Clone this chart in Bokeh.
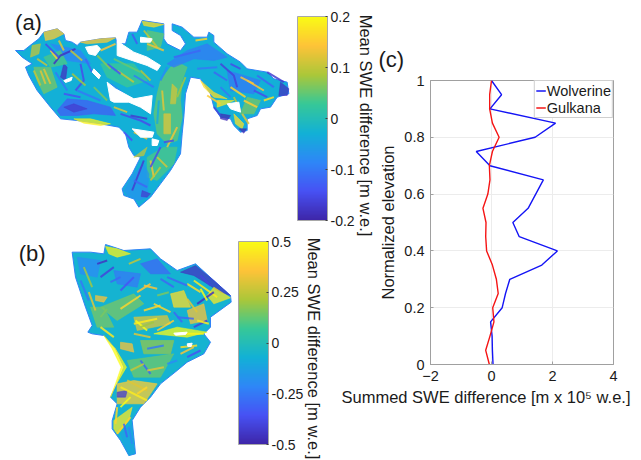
from math import pi
import numpy as np
from bokeh.plotting import figure
from bokeh.layouts import row, column
from bokeh.models import (ColorBar, ColumnDataSource, FixedTicker, Label, Legend, LegendItem,
                          LinearAxis, LinearColorMapper, Range1d, Title)
from bokeh.transform import linear_cmap
from bokeh.embed import file_html
from bokeh.resources import INLINE

FONT = "Liberation Sans"

# ---- panel (c) profiles
elevation = [1.0, .95, .9, .85, .8, .75, .7, .65, .6, .55, .5, .45, .4, .35, .3, .25, .2, .15, .1, .05, 0.0]
wolverine = [0, .33, -.05, 2.1, 1.43, -.5, -.05, 1.7, 1.45, 1.2, .7, .91, 2.16, 1.65, .6, .46, .35, -.03, .02, .03, .05]
gulkana = [0, -.06, -.06, .03, .25, .03, -.07, -.05, -.12, -.28, -.18, -.19, -.16, .03, .16, .22, .04, .08, -.05, -.19, -.07]
x_ticks = [-2, 0, 2, 4]
y_ticks = [0, .2, .4, .6, .8, 1]

# ---- colour scale anchors
parula = [(62, 38, 168), (71, 82, 244), (46, 135, 247), (18, 177, 214),
          (55, 200, 151), (171, 199, 57), (254, 195, 56), (249, 251, 21)]

# ---- map (a): outline, value patches, streaks, gaps (map units)
a_outline = [(45,150),(70,150),(95,130),(115,115),(130,95),(170,85),(190,100),(195,120),(215,125),(230,135),(240,125),(300,115),(345,112),(350,130),(375,130),(385,95),(410,95),(425,60),(490,70),(490,115),(500,130),(540,150),(555,130),(540,105),(515,90),(515,70),(545,80),(580,110),(620,110),(625,95),(640,105),(640,125),(680,160),(720,185),(740,205),(800,215),(820,235),(860,245),(865,280),(830,290),(810,320),(780,325),(770,345),(740,355),(740,390),(720,395),(700,375),(690,355),(660,350),(640,320),(630,280),(600,235),(570,230),(555,280),(550,350),(545,400),(540,460),(510,510),(480,550),(450,590),(415,620),(400,595),(370,585),(365,565),(395,520),(420,470),(400,465),(385,440),(375,400),(355,380),(300,370),(230,360),(180,355),(150,320),(110,270),(85,225),(75,200),(95,190),(65,170)]
a_base = -0.03
a_blob_values = [-.13,-.17,.19,.05,.11,.12,.04,-.07,-.17,-.1,.17,.18,.17,-.18,-.19,-.19,.15,.1,.06,-.18,.15,.17,.03,.05,-.09,.06,-.1,.04,.1]
a_blobs = [
 [(170,330),(200,295),(260,300),(330,320),(345,345),(280,340),(230,345),(180,345)],
 [(190,320),(220,310),(260,325),(220,335)],
 [(220,355),(270,355),(330,370),(300,375),(250,368)],
 [(480,240),(510,200),(540,190),(560,200),(545,240),(540,300),(545,350),(530,420),(500,430),(470,400),(460,340),(470,280)],
 [(515,250),(530,265),(525,310),(510,310)],
 [(490,340),(510,340),(510,400),(490,400)],
 [(440,470),(490,440),(530,440),(520,490),(470,540),(440,530)],
 [(370,570),(400,520),(430,490),(445,520),(440,590),(415,600),(385,590)],
 [(425,570),(450,580),(440,590),(422,588)],
 [(500,190),(560,150),(620,130),(680,170),(640,180),(580,175),(520,200)],
 [(600,240),(640,275),(680,295),(640,290),(610,260)],
 [(650,300),(700,300),(680,310),(650,320)],
 [(700,340),(730,370),(725,385),(705,370)],
 [(840,245),(865,265),(860,285),(835,285)],
 [(660,340),(690,345),(680,360),(660,355)],
 [(715,385),(738,385),(730,398)],
 [(130,95),(170,85),(190,100),(160,115),(135,120)],
 [(95,135),(120,130),(115,160),(90,170)],
 [(100,200),(150,200),(170,260),(130,280),(110,240)],
 [(190,190),(200,200),(195,240),(180,230)],
 [(240,125),(300,115),(345,112),(320,125),(260,130)],
 [(425,62),(490,72),(460,80),(430,75)],
 [(300,190),(400,190),(440,240),(380,260),(320,230)],
 [(440,90),(490,100),(480,140),(440,150)],
 [(150,130),(240,150),(270,190),(200,180)],
 [(740,290),(780,300),(760,340),(720,340)],
 [(680,210),(780,240),(760,280),(690,270)],
 [(130,170),(180,150),(200,190),(150,200)],
 [(400,470),(440,440),(430,465)],
]
a_streak_values = [-.18,-.15,.12,.15,-.15,-.17,.12,-.14,.13,-.16,.14,-.12,-.17,.16,.15,-.16,.1,-.14,.09,-.17,.13,-.15,.12,.16,
 .1,.12,-.1,.08,-.12,.1,-.15,.12,.1,-.1,.06,-.14,.07,.05,-.1,-.08,.14,.1,.13,-.13,-.12,-.1,.08,-.04,-.08,.13,-.15,.11,.1,-.12,
 -.12,-.15,.14,-.1,.15,.17,-.15,.1,.12]
a_streaks = [
 [(225,145),(180,165),(160,190)],[(240,190),(250,240),(225,270)],[(120,210),(135,250)],[(150,150),(170,175)],
 [(360,340),(420,360),(450,375)],[(390,345),(440,355)],[(340,320),(380,335)],[(370,395),(395,420)],[(400,395),(440,415)],
 [(660,190),(700,225),(710,260)],[(740,240),(790,270)],[(770,225),(820,260)],[(800,215),(850,245)],[(690,260),(735,290)],
 [(620,285),(660,310)],[(640,320),(660,345)],[(350,210),(400,245)],[(320,190),(360,220)],[(420,210),(450,240)],
 [(430,480),(395,570)],[(450,480),(460,530)],[(480,440),(450,500)],[(485,270),(490,330)],[(585,120),(620,115)],
 [(100,210),(120,255)],[(130,205),(150,250)],[(165,215),(200,270)],[(215,220),(255,255)],[(255,175),(275,215)],[(210,150),(245,180)],
 [(135,130),(175,170)],[(175,120),(190,150)],[(110,175),(140,195)],[(230,270),(300,300)],[(280,260),(320,300)],[(190,280),(240,290)],
 [(290,165),(330,205)],[(340,175),(420,215)],[(400,225),(460,260)],[(330,250),(370,280)],[(300,150),(345,130)],
 [(430,90),(470,140)],[(440,130),(490,150)],[(395,100),(410,130)],
 [(520,170),(600,150)],[(590,205),(650,200)],[(555,230),(530,290)],[(475,300),(470,370)],[(500,200),(480,240)],[(530,380),(500,440)],
 [(490,425),(520,420)],[(470,470),(500,500)],[(480,500),(450,540)],[(400,540),(440,560)],
 [(640,215),(680,240)],[(690,190),(720,205)],[(720,230),(760,250)],[(660,260),(690,290)],[(730,300),(770,320)],[(790,300),(820,290)],
 [(760,270),(800,290)],[(700,290),(720,330)],[(725,340),(745,370)],
]
a_gaps = [
 [(255,140),(290,135),(300,145),(285,165),(265,160)],
 [(350,120),(370,135),(400,155),(440,170),(480,195),(470,210),(440,195),(395,180),(350,165)],
 [(320,245),(345,265),(400,295),(455,285),(450,340),(420,320),(385,305),(340,305),(330,300)],
 [(395,385),(460,395),(455,410),(420,410)],
 [(455,415),(475,420),(470,435),(455,435)],
 [(420,110),(455,115),(450,125),(420,125)],
 [(680,310),(715,305),(720,335),(690,325)],
 [(280,205),(300,225),(295,235),(275,215)],
 [(190,240),(215,230),(212,240),(195,246)],
]

# ---- map (b)
b_outline = [(215,95),(270,95),(310,100),(315,72),(340,80),(370,90),(450,85),(480,115),(530,150),(585,130),(640,180),(690,225),(692,245),(630,290),(630,320),(610,340),(630,365),(610,400),(560,425),(530,450),(480,490),(450,530),(420,560),(395,600),(400,650),(405,700),(385,705),(360,660),(335,625),(335,600),(350,550),(330,530),(350,490),(370,440),(345,385),(310,345),(275,340),(262,335),(275,315),(255,260),(225,170)]
b_base = -0.06
b_blob_values = [.48,-.45,-.3,.5,.42,.38,-.42,.5,.45,-.12,.14,.35,.35,.15,-.2,.3,.18,-.25,.35,.15,.45]
b_blobs = [
 [(315,78),(350,85),(390,100),(350,110),(325,100)],
 [(540,155),(585,135),(640,180),(690,225),(660,215),(620,190),(580,165)],
 [(420,130),(470,115),(510,160),(450,160)],
 [(460,340),(530,320),(620,335),(560,350),(510,345)],
 [(510,220),(550,210),(570,260),(520,260)],
 [(350,490),(400,480),(470,490),(430,550),(350,550)],
 [(350,515),(380,510),(375,530),(350,530)],
 [(310,345),(345,385),(378,440),(345,495),(330,530),(345,490),(362,440),(335,385)],
 [(340,600),(395,560),(385,600),(350,640),(340,625)],
 [(360,640),(395,610),(400,700),(385,705)],
 [(380,420),(520,400),(480,470),(400,470)],
 [(360,365),(395,370),(400,395),(360,385)],
 [(285,225),(320,230),(310,245),(285,240)],
 [(300,260),(400,220),(430,250),(350,300)],
 [(230,110),(300,120),(290,170),(240,160)],
 [(400,290),(500,285),(510,310),(410,330)],
 [(420,360),(520,360),(510,400),(430,400)],
 [(340,150),(420,160),(410,200),(350,190)],
 [(560,270),(610,250),(620,300),(570,310)],
 [(270,260),(310,260),(340,320),(290,320)],
 [(640,200),(690,232),(640,250),(620,225)],
]
b_streak_values = [-.45,-.4,.42,.45,-.3,.4,-.4,.45,.38,-.3,.4,-.45,.45,.3,-.3,.48,.42,-.35,.35,.4,
 .2,-.25,.3,-.3,.25,-.35,.35,.15,-.3,.4,.3,-.25,.45,.5,.2,-.3,.3,.5,-.4,.45,.35,.25,-.2,.3,.5,.4,-.2,-.3,.4,.15]
b_streaks = [
 [(290,130),(320,120)],[(300,170),(340,140)],[(560,190),(600,215)],[(580,180),(650,230)],[(500,170),(560,195)],
 [(360,265),(420,225)],[(580,320),(620,300)],[(400,310),(470,295)],[(470,330),(520,300)],[(530,290),(580,295)],
 [(430,270),(480,255)],[(590,250),(640,215)],[(360,500),(440,540)],[(380,480),(440,510)],[(420,420),(450,460)],
 [(530,340),(610,340)],[(540,380),(590,375)],[(560,410),(600,390)],[(430,195),(470,205)],[(350,640),(390,590)],
 [(250,140),(275,200)],[(240,180),(265,240)],[(265,215),(285,270)],[(330,185),(360,170)],[(385,130),(420,115)],[(360,210),(400,170)],
 [(410,215),(450,190)],[(470,225),(505,215)],[(480,175),(520,200)],[(460,250),(510,275)],[(400,340),(450,350)],[(440,385),(490,375)],
 [(300,320),(340,350)],[(405,300),(440,330)],[(420,320),(460,305)],[(520,275),(545,305)],[(560,235),(590,275)],[(600,205),(620,240)],
 [(600,165),(630,195)],[(590,300),(625,310)],[(540,400),(580,380)],[(390,450),(430,430)],[(500,430),(530,420)],[(440,450),(490,440)],
 [(360,560),(390,530)],[(410,520),(440,500)],[(385,620),(395,670)],[(370,610),(380,650)],[(350,560),(345,610)],[(300,290),(320,265)],
]
b_gaps = [[(520,338),(560,335),(555,342),(525,344)],[(560,370),(575,368),(572,378),(562,378)]]

# ---- colour bar scales
a_limit = 0.2
a_ticks = [-.2, -.1, 0, .1, .2]
b_limit = 0.5
b_ticks = [-.5, -.25, 0, .25, .5]

anchors = np.array(parula, dtype=float)
pos = np.linspace(0, 1, len(anchors))
palette = ["#%02x%02x%02x" % tuple(int(round(np.interp(t, pos, anchors[:, k]))) for k in range(3))
           for t in np.linspace(0, 1, 256)]


def xs_ys(polys):
    return [[p[0] for p in poly] for poly in polys], [[p[1] for p in poly] for poly in polys]


def map_panel(width, height, x0, y0, outline, base, blobs, blob_values, streaks, streak_values, gaps, limit, margin=(0, 0, 0, 0)):
    p = figure(width=width, height=height, output_backend="svg", toolbar_location=None,
               x_range=Range1d(x0, x0 + width * 3), y_range=Range1d(y0 + height * 3, y0),
               min_border=0, outline_line_color=None, margin=margin)
    p.axis.visible = False
    p.grid.visible = False
    p.border_fill_alpha = 0
    p.background_fill_alpha = 0
    cmap = linear_cmap("v", palette, -limit, limit)
    ox, oy = xs_ys([outline])
    p.patches(xs=ox, ys=oy, fill_color=palette[int((base + limit) / (2 * limit) * 255)], line_color=palette[70], line_width=1)
    bx, by = xs_ys(blobs)
    p.patches("x", "y", source=ColumnDataSource(dict(x=bx, y=by, v=blob_values)),
              fill_color=cmap, line_color=cmap, line_width=1, fill_alpha=0.75, line_alpha=0.5)
    sx, sy = xs_ys(streaks)
    p.multi_line("x", "y", source=ColumnDataSource(dict(x=sx, y=sy, v=streak_values)),
                 line_color=cmap, line_width=2, line_alpha=0.85)
    gx, gy = xs_ys(gaps)
    p.patches(xs=gx, ys=gy, fill_color="white", line_color="white")
    return p


def add_bar(p, limit, ticks, labels, x, y, height):
    mapper = LinearColorMapper(palette=palette, low=-limit, high=limit)
    bar = ColorBar(color_mapper=mapper, location=(x, y), width=30, height=height, padding=0, margin=0,
                   ticker=FixedTicker(ticks=ticks), major_label_overrides=labels,
                   major_label_text_font=FONT, major_label_text_font_size="14px", major_label_text_color="#1a1a1a",
                   major_tick_line_color="#404040", major_tick_in=2, minor_tick_line_color=None,
                   bar_line_color="#a8a8a8", border_line_color=None, background_fill_alpha=0, label_standoff=3)
    p.add_layout(bar, "center")


def add_text(p, x, y, text, size="16.5px", angle=0.0):
    p.add_layout(Label(x=x, y=y, text=text, text_font=FONT, text_font_size=size,
                       text_color="#1a1a1a", angle=angle, text_align="center", text_baseline="middle"))


# ---- panel (a)
pa = map_panel(375, 238, 0, 0, a_outline, a_base, a_blobs, a_blob_values, a_streaks, a_streak_values, a_gaps, a_limit)
add_bar(pa, a_limit, a_ticks, {-.2: "-0.2", -.1: "-0.1", 0: "0", .1: "0.1", .2: "0.2"}, 297, 18, 204)
add_text(pa, 1095, 375, "Mean SWE difference [m w.e.]", angle=-pi / 2)
add_text(pa, 84, 66, "(a)", size="22px")

# ---- panel (b)
pb = map_panel(375, 232, 0, 24, b_outline, b_base, b_blobs, b_blob_values, b_streaks, b_streak_values, b_gaps, b_limit,
               margin=(-10, 0, 0, 0))
add_bar(pb, b_limit, b_ticks, {-.5: "-0.5", -.25: "-0.25", 0: "0", .25: "0.25", .5: "0.5"}, 238, 16, 203)
add_text(pb, 939, 384, "Mean SWE difference [m w.e.]", angle=-pi / 2)
add_text(pb, 95, 99, "(b)", size="22px")

# ---- panel (c)
pc = figure(width=298, height=456, output_backend="svg", toolbar_location=None,
            x_range=Range1d(-2, 4), y_range=Range1d(0, 1),
            min_border_left=95, min_border_right=20, min_border_top=80, min_border_bottom=92,
            margin=(0, 0, 0, -40), outline_line_color="#a0a0a0")
pc.border_fill_alpha = 0
pc.background_fill_alpha = 0
pc.xaxis.ticker = FixedTicker(ticks=x_ticks)
pc.yaxis.ticker = FixedTicker(ticks=y_ticks)
pc.yaxis.major_label_overrides = {0: "0", 1: "1", .2: "0.2", .4: "0.4", .6: "0.6", .8: "0.8"}
pc.xgrid.ticker = FixedTicker(ticks=x_ticks)
pc.ygrid.ticker = FixedTicker(ticks=y_ticks)
pc.grid.grid_line_color = "#ececec"
for ax in (pc.xaxis[0], pc.yaxis[0]):
    ax.axis_line_color = "#a0a0a0"
    ax.major_tick_line_color = "#a0a0a0"
    ax.major_tick_in = 3
    ax.major_tick_out = 0
    ax.minor_tick_line_color = None
    ax.major_label_text_font = FONT
    ax.major_label_text_font_size = "14.5px"
    ax.major_label_text_color = "#1a1a1a"
    ax.major_label_standoff = 6
pc.yaxis[0].axis_label = "Normalized elevation"
pc.yaxis[0].axis_label_text_font = FONT
pc.yaxis[0].axis_label_text_font_style = "normal"
pc.yaxis[0].axis_label_text_font_size = "16.5px"
pc.yaxis[0].axis_label_text_color = "#1a1a1a"
pc.yaxis[0].axis_label_standoff = 4
l1 = pc.line(wolverine, elevation, line_color="#1414f5", line_width=1.4)
l2 = pc.line(gulkana, elevation, line_color="#f51414", line_width=1.4)
legend = Legend(items=[LegendItem(label="Wolverine", renderers=[l1]), LegendItem(label="Gulkana", renderers=[l2])],
                location="top_right", margin=0, padding=1, spacing=0, glyph_width=10, glyph_height=17, label_standoff=1,
                label_text_font=FONT, label_text_font_size="14.5px", label_text_color="#1a1a1a",
                border_line_color="#a0a0a0", background_fill_alpha=1)
pc.add_layout(legend, "center")
pc.add_layout(Title(text="Summed SWE difference [m x 10\u2075 w.e.]", align="left", offset=-89, standoff=5,
                    text_font=FONT, text_font_size="16.5px", text_font_style="normal", text_color="#1a1a1a"), "below")
pc.add_layout(Title(text="(c)", align="left", offset=-52, standoff=17,
                    text_font=FONT, text_font_size="22px", text_font_style="normal", text_color="#1a1a1a"), "above")

page = row(column(pa, pb, spacing=0), pc, spacing=0)
open("out.html", "w").write(file_html(page, INLINE))
